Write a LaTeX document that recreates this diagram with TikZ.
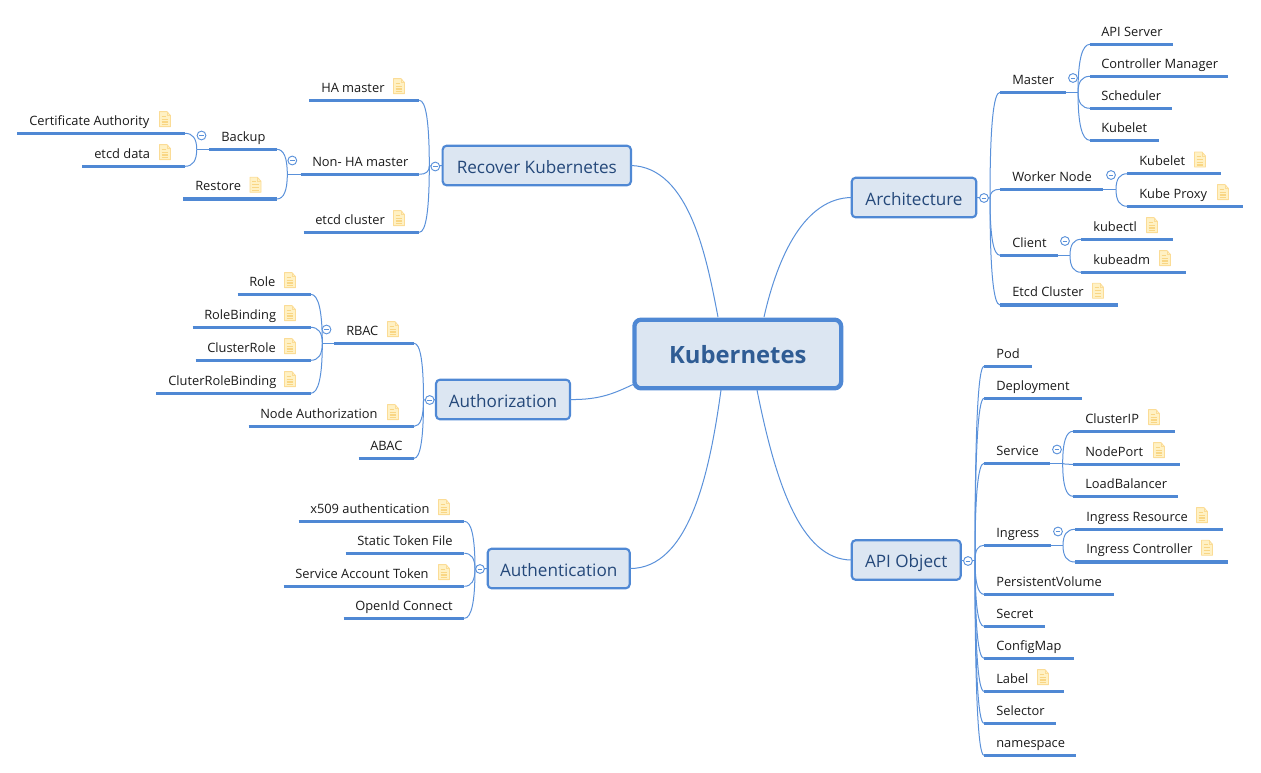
\documentclass[tikz,border=0pt]{standalone}
\usepackage{fontspec}
\usetikzlibrary{calc}
\setmainfont{Open Sans}
\definecolor{bline}{HTML}{5A91DA}
\definecolor{bthick}{HTML}{4F88D4}
\definecolor{bfill}{HTML}{DCE6F2}
\definecolor{btext}{HTML}{24487A}
\definecolor{ctext}{HTML}{2F5C94}
\definecolor{ltext}{HTML}{1A1A1A}
\definecolor{nline}{HTML}{FBDC96}
\definecolor{nfill}{HTML}{FFF1C4}
\definecolor{nbar}{HTML}{F9D684}
\tikzset{
  x=0.75pt,y=-0.75pt,
  link/.style={draw=bline,line width=0.75pt},
  under/.style={draw=bthick,line width=2.3pt},
  leaftext/.style={text=ltext,font=\fontsize{9.65pt}{12pt}\selectfont,anchor=base west,inner sep=0pt},
  topicbox/.style={draw=bthick,fill=bfill,line width=1.6pt,rounded corners=3pt,inner sep=0pt,outer sep=0pt,text=btext,font=\fontsize{12.85pt}{15pt}\selectfont,text height=11.4pt,text depth=0pt},
  rootbox/.style={draw=bthick,fill=bfill,line width=3.2pt,rounded corners=5pt,inner sep=0pt,outer sep=0pt,text=ctext,font=\fontsize{17.85pt}{20pt}\selectfont\bfseries,text height=14.3pt,text depth=0pt},
  tog/.style={circle,draw=bline,fill=white,line width=0.7pt,minimum size=6.6pt,inner sep=0pt,
    path picture={\draw[bline,line width=0.6pt] ([xshift=-1.7pt]path picture bounding box.center) -- ([xshift=1.7pt]path picture bounding box.center);}},
  noteicon/.pic={
    \draw[nline,fill=nfill,line width=0.6pt,line join=round] (-5.5,-7.5) -- (2,-7.5) -- (5.5,-3.5) -- (5.5,7.5) -- (-5.5,7.5) -- cycle;
    \draw[nline,line width=0.5pt] (2,-7.5) -- (2,-3.5) -- (5.5,-3.5);
    \draw[nbar,line width=0.9pt] (-3.3,-3) -- (0.5,-3) (-3.3,0) -- (3.3,0) (-3.3,2.8) -- (3.3,2.8) (-3.3,5.4) -- (3.3,5.4);
  }
}
\newcommand{\leaf}[6]{% name, x1, x2, y, text x, text
  \coordinate (#1-l) at (#2,#4);
  \coordinate (#1-r) at (#3,#4);
  \draw[under] (#1-l) -- (#1-r);
  \node[leaftext] (#1) at (#5,#4-8.2) {#6};
}
\newcommand{\notemark}[2]{\pic at (#1,#2-14.2) {noteicon};}
\newcommand{\bend}[2]{\draw[link] (#1) .. controls ($(#1)!0.667!(#1 |- #2)$) and ($(#2)!0.667!(#1 |- #2)$) .. (#2);}
\begin{document}
\begin{tikzpicture}
\useasboundingbox (0,0) rectangle (1261,772);

% ---------- topic boxes
\node[rootbox,minimum width=206.7*0.75pt,minimum height=68.7*0.75pt] (root) at (737.8,354) {Kubernetes};
\node[topicbox,minimum width=124.6*0.75pt,minimum height=39.6*0.75pt] (arch) at (914,197.5) {Architecture};
\node[topicbox,minimum width=109*0.75pt,minimum height=39.6*0.75pt] (api) at (906.2,560) {API Object};
\node[topicbox,minimum width=188.3*0.75pt,minimum height=39.6*0.75pt] (recover) at (536.8,165.5) {Recover Kubernetes};
\node[topicbox,minimum width=134*0.75pt,minimum height=39.6*0.75pt] (authz) at (503,399.5) {Authorization};
\node[topicbox,minimum width=142*0.75pt,minimum height=39.6*0.75pt] (authn) at (558.7,568.5) {Authentication};

% ---------- main connectors
\coordinate (rA) at (764,317);
\coordinate (rR) at (718,317);
\coordinate (rO) at (757,390);
\coordinate (rN) at (721,390);
\coordinate (rZ) at (634,384);
\draw[link] (arch.west) .. controls (805,198) and (778,255) .. (rA);
\draw[link] (recover.east) .. controls (690,167) and (707,260) .. (rR);
\draw[link] (api.west) .. controls (800,560) and (775,480) .. (rO);
\draw[link] (authn.east) .. controls (690,569) and (710,470) .. (rN);
\draw[link] (authz.east) .. controls (600,400) and (615,393) .. (rZ);

% ---------- Architecture
\leaf{master}{1000}{1066}{92.3}{1012}{Master}
\leaf{apis}{1090}{1173.3}{44.3}{1101}{API Server}
\leaf{cm}{1090}{1228.3}{76.3}{1101}{Controller Manager}
\leaf{sched}{1090}{1171.5}{108.3}{1101}{Scheduler}
\leaf{mkub}{1090}{1158.5}{140.3}{1101}{Kubelet}
\leaf{worker}{1000}{1103}{189.3}{1012}{Worker Node}
\leaf{wkub}{1127.3}{1220.5}{173.7}{1139}{Kubelet}\notemark{1200}{173.7}
\leaf{wprox}{1127.3}{1243.3}{206.3}{1139}{Kube Proxy}\notemark{1223}{206.3}
\leaf{client}{1000}{1057.5}{255.3}{1012}{Client}
\leaf{kctl}{1081.3}{1172.5}{239.3}{1093}{kubectl}\notemark{1152}{239.3}
\leaf{kadm}{1081.3}{1185.5}{272.3}{1093}{kubeadm}\notemark{1165}{272.3}
\leaf{etcdc}{1000}{1118.3}{305}{1012}{Etcd Cluster}\notemark{1098}{305}
\coordinate (fA) at (990,198);
\coordinate (fM) at (1078,92.3);
\coordinate (fW) at (1116,189.3);
\coordinate (fC) at (1070,255.3);
\draw[link] (arch.east) -- (fA);
\bend{fA}{master-l}\bend{fA}{worker-l}\bend{fA}{client-l}\bend{fA}{etcdc-l}
\draw[link] (master-r) -- (fM);
\bend{fM}{apis-l}\bend{fM}{cm-l}\bend{fM}{sched-l}\bend{fM}{mkub-l}
\draw[link] (worker-r) -- (fW);
\bend{fW}{wkub-l}\bend{fW}{wprox-l}
\draw[link] (client-r) -- (fC);
\bend{fC}{kctl-l}\bend{fC}{kadm-l}
\node[tog] (tA) at (984,198) {};
\node[tog] (tM) at (1073,78) {};
\node[tog] (tW) at (1111,175) {};
\node[tog] (tC) at (1065,241) {};

% ---------- API Object
\leaf{pod}{984}{1031.5}{366.3}{996}{Pod}
\leaf{depl}{984}{1082}{398.3}{996}{Deployment}
\leaf{svc}{984}{1049.5}{463.3}{996}{Service}
\leaf{cip}{1073}{1174.5}{431.3}{1085}{ClusterIP}\notemark{1154}{431.3}
\leaf{npt}{1073}{1179.5}{464.3}{1085}{NodePort}\notemark{1159}{464.3}
\leaf{lb}{1073}{1177.5}{496.3}{1085}{LoadBalancer}
\leaf{ing}{984}{1050.5}{545.3}{996}{Ingress}
\leaf{ires}{1075}{1222.5}{529.3}{1086}{Ingress Resource}\notemark{1202}{529.3}
\leaf{ictl}{1075}{1227.5}{562}{1086}{Ingress Controller}\notemark{1207}{562}
\leaf{pv}{984}{1113.5}{594.3}{996}{PersistentVolume}
\leaf{sec}{984}{1044.5}{626.3}{996}{Secret}
\leaf{cfg}{984}{1073.5}{658.3}{996}{ConfigMap}
\leaf{lab}{984}{1063.5}{691.3}{996}{Label}\notemark{1043}{691.3}
\leaf{sel}{984}{1055.5}{723.3}{996}{Selector}
\leaf{nsp}{984}{1075.5}{755.3}{996}{namespace}
\coordinate (fO) at (975,560);
\coordinate (fS) at (1062.7,463.3);
\coordinate (fI) at (1063,545.3);
\draw[link] (api.east) -- (fO);
\bend{fO}{pod-l}\bend{fO}{depl-l}\bend{fO}{svc-l}\bend{fO}{ing-l}\bend{fO}{pv-l}
\bend{fO}{sec-l}\bend{fO}{cfg-l}\bend{fO}{lab-l}\bend{fO}{sel-l}\bend{fO}{nsp-l}
\draw[link] (svc-r) -- (fS);
\bend{fS}{cip-l}\bend{fS}{npt-l}\bend{fS}{lb-l}
\draw[link] (ing-r) -- (fI);
\bend{fI}{ires-l}\bend{fI}{ictl-l}
\node[tog] (tO) at (968,561) {};
\node[tog] (tS) at (1057,449.5) {};
\node[tog] (tI) at (1058,531.5) {};

% ---------- Recover Kubernetes
\leaf{ha}{309.3}{419.3}{100.3}{321}{HA master}\notemark{399}{100.3}
\leaf{nonha}{300.5}{419.3}{174.3}{312}{Non- HA master}
\leaf{etcdr}{303.5}{419.3}{232.3}{315}{etcd cluster}\notemark{399}{232.3}
\leaf{backup}{209.3}{276.7}{149.3}{221}{Backup}
\leaf{restore}{183.3}{276.7}{199}{195}{Restore}\notemark{255.5}{199}
\leaf{ca}{17.3}{185}{133.3}{29}{Certificate Authority}\notemark{165}{133.3}
\leaf{edata}{82.3}{185}{166.3}{94}{etcd data}\notemark{165}{166.3}
\coordinate (fR) at (429.3,166);
\coordinate (fN) at (287.3,174.3);
\coordinate (fB) at (196.7,149.3);
\draw[link] (recover.west) -- (fR);
\bend{fR}{ha-r}\bend{fR}{nonha-r}\bend{fR}{etcdr-r}
\draw[link] (nonha-l) -- (fN);
\bend{fN}{backup-r}\bend{fN}{restore-r}
\draw[link] (backup-l) -- (fB);
\bend{fB}{ca-r}\bend{fB}{edata-r}
\node[tog] (tR) at (435.3,166.5) {};
\node[tog] (tN) at (292.3,160.5) {};
\node[tog] (tB) at (201.5,135.5) {};

% ---------- Authorization
\leaf{rbac}{334.3}{414}{343.3}{346}{RBAC}\notemark{393}{343.3}
\leaf{role}{237.7}{310.7}{294.3}{249}{Role}\notemark{290}{294.3}
\leaf{rb}{192.7}{310.7}{327.3}{204}{RoleBinding}\notemark{290}{327.3}
\leaf{cr}{195.5}{310.7}{360.3}{207}{ClusterRole}\notemark{290}{360.3}
\leaf{crb}{156.3}{310.7}{393.3}{168}{CluterRoleBinding}\notemark{290}{393.3}
\leaf{nauth}{248.5}{414}{426.3}{260}{Node Authorization}\notemark{393}{426.3}
\leaf{abac}{358.5}{414}{458.3}{370}{ABAC}
\coordinate (fZ) at (423.5,400);
\coordinate (fB2) at (322.3,343.3);
\draw[link] (authz.west) -- (fZ);
\bend{fZ}{rbac-r}\bend{fZ}{nauth-r}\bend{fZ}{abac-r}
\draw[link] (rbac-l) -- (fB2);
\bend{fB2}{role-r}\bend{fB2}{rb-r}\bend{fB2}{cr-r}\bend{fB2}{crb-r}
\node[tog] (tZ) at (429.7,400) {};
\node[tog] (tB2) at (326.5,329.5) {};

% ---------- Authentication
\leaf{x509}{298.5}{464.3}{521.3}{310}{x509 authentication}\notemark{444}{521.3}
\leaf{stf}{345.5}{464.3}{553.3}{357}{Static Token File}
\leaf{sat}{283.5}{464.3}{586.3}{295}{Service Account Token}\notemark{444}{586.3}
\leaf{oid}{343.5}{464.3}{618.3}{355}{OpenId Connect}
\coordinate (fH) at (475,569);
\draw[link] (authn.west) -- (fH);
\bend{fH}{x509-r}\bend{fH}{stf-r}\bend{fH}{sat-r}\bend{fH}{oid-r}
\node[tog] (tH) at (480,569) {};
\end{tikzpicture}
\end{document}
